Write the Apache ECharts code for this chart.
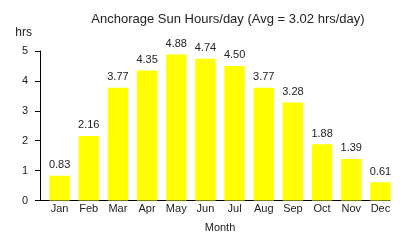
<!DOCTYPE html>
<html><head><meta charset="utf-8">
<script src="https://cdn.jsdelivr.net/npm/echarts@6/dist/echarts.min.js"></script>
<style>html,body{margin:0;padding:0;background:#fff}#c{width:420px;height:240px}</style>
</head><body><div id="c"></div>
<script>
const months = ['Jan','Feb','Mar','Apr','May','Jun','Jul','Aug','Sep','Oct','Nov','Dec'];
const sunHours = [0.83, 2.16, 3.77, 4.35, 4.88, 4.74, 4.50, 3.77, 3.28, 1.88, 1.39, 0.61];
const yTicks = [0, 1, 2, 3, 4, 5];
const titleText = 'Anchorage Sun Hours/day (Avg = 3.02 hrs/day)';

const FONT = 'Liberation Sans, Arial, Helvetica, sans-serif';
const TXT = '#222';
const chart = echarts.init(document.getElementById('c'), null, {renderer: 'canvas'});
chart.setOption({
  animation: false,
  backgroundColor: '#fff',
  title: {
    text: titleText, left: 228, top: 13, textAlign: 'center', padding: 0,
    textStyle: {fontFamily: FONT, fontSize: 13, fontWeight: 'normal', color: TXT}
  },
  grid: [
    {left: 45, right: 25, top: 51, bottom: 39.5},
    {left: 40, right: 30, top: 51, bottom: 39.5}
  ],
  xAxis: [
    {
      type: 'category', data: months, gridIndex: 0,
      name: 'Month', nameLocation: 'middle', nameGap: 22,
      nameTextStyle: {fontFamily: FONT, fontSize: 11, color: TXT},
      axisLine: {show: false}, axisTick: {show: false},
      axisLabel: {fontFamily: FONT, fontSize: 11, color: TXT, margin: 3}
    },
    {
      type: 'value', gridIndex: 1, min: 0, max: 1,
      axisLine: {show: true, lineStyle: {color: '#000', width: 1}},
      axisTick: {show: false}, axisLabel: {show: false}, splitLine: {show: false}
    }
  ],
  yAxis: [
    {
      type: 'value', gridIndex: 0, min: yTicks[0], max: yTicks[yTicks.length-1], interval: 1,
      offset: 5,
      name: 'hrs', nameLocation: 'end', nameGap: 18,
      nameTextStyle: {fontFamily: FONT, fontSize: 12, color: TXT, align: 'right', verticalAlign: 'middle', padding: [0, 8, 0, 0]},
      axisLine: {show: true, lineStyle: {color: '#000', width: 1}},
      axisTick: {show: true, length: 5, lineStyle: {color: '#000'}},
      axisLabel: {fontFamily: FONT, fontSize: 11, color: TXT, margin: 12},
      splitLine: {show: false}
    },
    {
      type: 'value', gridIndex: 1, min: 0, max: 1, show: false
    }
  ],
  series: [{
    type: 'bar', xAxisIndex: 0, yAxisIndex: 0,
    data: sunHours, barWidth: '70%',
    itemStyle: {color: '#ffff00'},
    label: {
      show: true, position: 'top', distance: 5,
      fontFamily: FONT, fontSize: 11, color: TXT,
      formatter: p => p.value.toFixed(2)
    }
  }]
});
</script></body></html>
